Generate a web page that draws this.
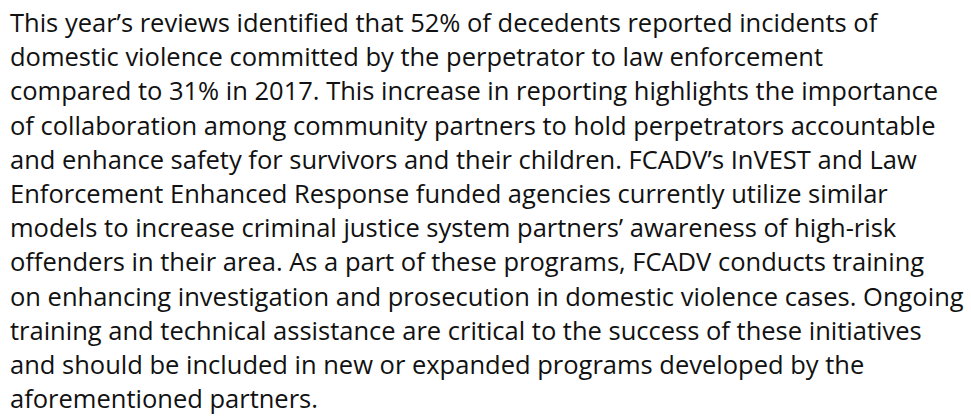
<!DOCTYPE html>
<html>
<head>
<meta charset="utf-8">
<script src="https://cdn.jsdelivr.net/npm/chart.js@4"></script>
<style>
    html, body { margin: 0; padding: 0; background: #fff; }
    body { width: 971px; height: 418px; overflow: hidden; }
    #text {
        position: absolute;
        left: 10px;
        top: 5px;
        font-family: "Open Sans", sans-serif;
        font-size: 25.5px;
        line-height: 34.2px;
        color: #111;
        white-space: pre;
    }
</style>
</head>
<body>
<div id="text"></div>
<script>
    // Paragraph lines, as wrapped in the reference
    const lines = [
        'This year\u2019s reviews identified that 52% of decedents reported incidents of',
        'domestic violence committed by the perpetrator to law enforcement',
        'compared to 31% in 2017. This increase in reporting highlights the importance',
        'of collaboration among community partners to hold perpetrators accountable',
        'and enhance safety for survivors and their children. FCADV\u2019s InVEST and Law',
        'Enforcement Enhanced Response funded agencies currently utilize similar',
        'models to increase criminal justice system partners\u2019 awareness of high-risk',
        'offenders in their area. As a part of these programs, FCADV conducts training',
        'on enhancing investigation and prosecution in domestic violence cases. Ongoing',
        'training and technical assistance are critical to the success of these initiatives',
        'and should be included in new or expanded programs developed by the',
        'aforementioned partners.'
    ];

    document.getElementById('text').textContent = lines.join('\n');
</script>
</body>
</html>
